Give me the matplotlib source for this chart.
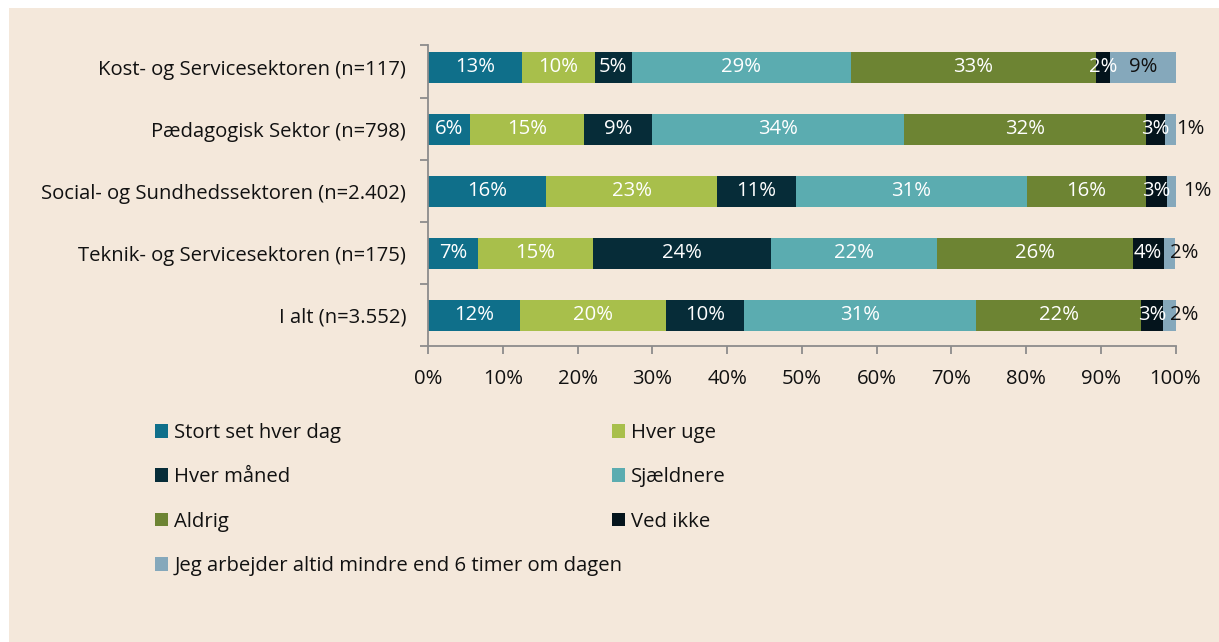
import numpy as np
import matplotlib.pyplot as plt
from matplotlib.patches import Patch, Rectangle

plt.rcParams['font.family'] = ['Open Sans', 'DejaVu Sans']

# Data (percent of respondents per sector)
categories = [
    "Kost- og Servicesektoren (n=117)",
    "Pædagogisk Sektor (n=798)",
    "Social- og Sundhedssektoren (n=2.402)",
    "Teknik- og Servicesektoren (n=175)",
    "I alt (n=3.552)",
]
series_names = [
    "Stort set hver dag",
    "Hver uge",
    "Hver måned",
    "Sjældnere",
    "Aldrig",
    "Ved ikke",
    "Jeg arbejder altid mindre end 6 timer om dagen",
]
stort_set_hver_dag = [12.6, 5.6, 15.8, 6.6, 12.3]
hver_uge = [9.7, 15.3, 22.8, 15.4, 19.5]
hver_maaned = [4.9, 9.0, 10.6, 23.8, 10.4]
sjaeldnere = [29.4, 33.7, 30.9, 22.3, 31.1]
aldrig = [32.7, 32.4, 15.9, 26.2, 22.1]
ved_ikke = [2.0, 2.6, 2.9, 4.1, 2.9]
mindre_end_6 = [8.7, 1.4, 1.1, 1.6, 1.7]
xticks = np.arange(0, 101, 10)

series = [stort_set_hver_dag, hver_uge, hver_maaned, sjaeldnere,
          aldrig, ved_ikke, mindre_end_6]
colors = ['#0f6f8a', '#a8bf4b', '#062c38', '#5bacb0',
          '#6d8433', '#04141c', '#85a8bb']

# offset of the small outside labels of the last series (None = centred)
last_label_offset = [None, 0.1, 1.0, -0.7, -0.7]

fs = 14.6

fig = plt.figure(figsize=(12.19, 6.42), dpi=100, facecolor='white')
fig.patches.append(Rectangle((9 / 1219, 0), 1, 1 - 8 / 642,
                             transform=fig.transFigure,
                             facecolor='#f4e8db', edgecolor='none', zorder=-5))

ax = fig.add_axes([428.3 / 1219, 1 - 346 / 642, (1175.5 - 428.3) / 1219, 301 / 642])
ax.set_facecolor('none')

y = np.arange(len(categories))
left = np.zeros(len(categories))
for k, (vals, col) in enumerate(zip(series, colors)):
    vals = np.array(vals)
    bars = ax.barh(y, vals, left=left, height=0.5, color=col, label=series_names[k])
    if k < len(series) - 1:
        ax.bar_label(bars, labels=[f"{v:.0f}%" for v in vals], label_type='center',
                     color='white', fontsize=fs)
    else:
        for j, (b, v) in enumerate(zip(bars, vals)):
            yc = b.get_y() + b.get_height() / 2
            off = last_label_offset[j]
            if off is None:
                ax.text(b.get_x() + b.get_width() / 2, yc, f"{v:.0f}%",
                        ha='center', va='center', fontsize=fs, color='#111111')
            else:
                ax.text(b.get_x() + b.get_width() + off, yc, f"{v:.0f}%",
                        ha='left', va='center', fontsize=fs, color='#111111')
    left += vals

ax.set_xlim(0, 100)
ax.set_ylim(4.5, -0.355)
ax.set_xticks(xticks)
ax.set_xticklabels([f"{t}%" for t in xticks])
ax.set_yticks(y)
ax.set_yticklabels(categories)
ax.set_yticks([-0.355, 0.5, 1.5, 2.5, 3.5, 4.5], minor=True)

for s in ['top', 'right']:
    ax.spines[s].set_visible(False)
for s in ['left', 'bottom']:
    ax.spines[s].set_color('#8c8c8c')
    ax.spines[s].set_linewidth(1.3)

ax.tick_params(axis='x', direction='out', length=5.5, width=1.3, color='#8c8c8c',
               labelsize=fs, pad=11, labelcolor='#111111')
ax.tick_params(axis='y', which='major', length=0, pad=16, labelsize=fs,
               labelcolor='#111111')
ax.tick_params(axis='y', which='minor', direction='out', length=5.5, width=1.3,
               color='#8c8c8c')

# Legend: two columns laid out row by row
handles = [Patch(facecolor=c, edgecolor='none', label=n) for c, n in zip(colors, series_names)]
leg_kw = dict(frameon=False, fontsize=fs, handlelength=0.65, handleheight=0.65,
              handletextpad=0.3, labelspacing=1.2, borderpad=0, borderaxespad=0,
              labelcolor='#111111')
leg1 = fig.legend(handles=handles[0::2], loc='upper left',
                  bbox_to_anchor=(155 / 1219, 1 - 423 / 642), **leg_kw)
leg2 = fig.legend(handles=handles[1::2], loc='upper left',
                  bbox_to_anchor=(612 / 1219, 1 - 423 / 642), **leg_kw)

fig.savefig('out.png', dpi=100, facecolor=fig.get_facecolor())
